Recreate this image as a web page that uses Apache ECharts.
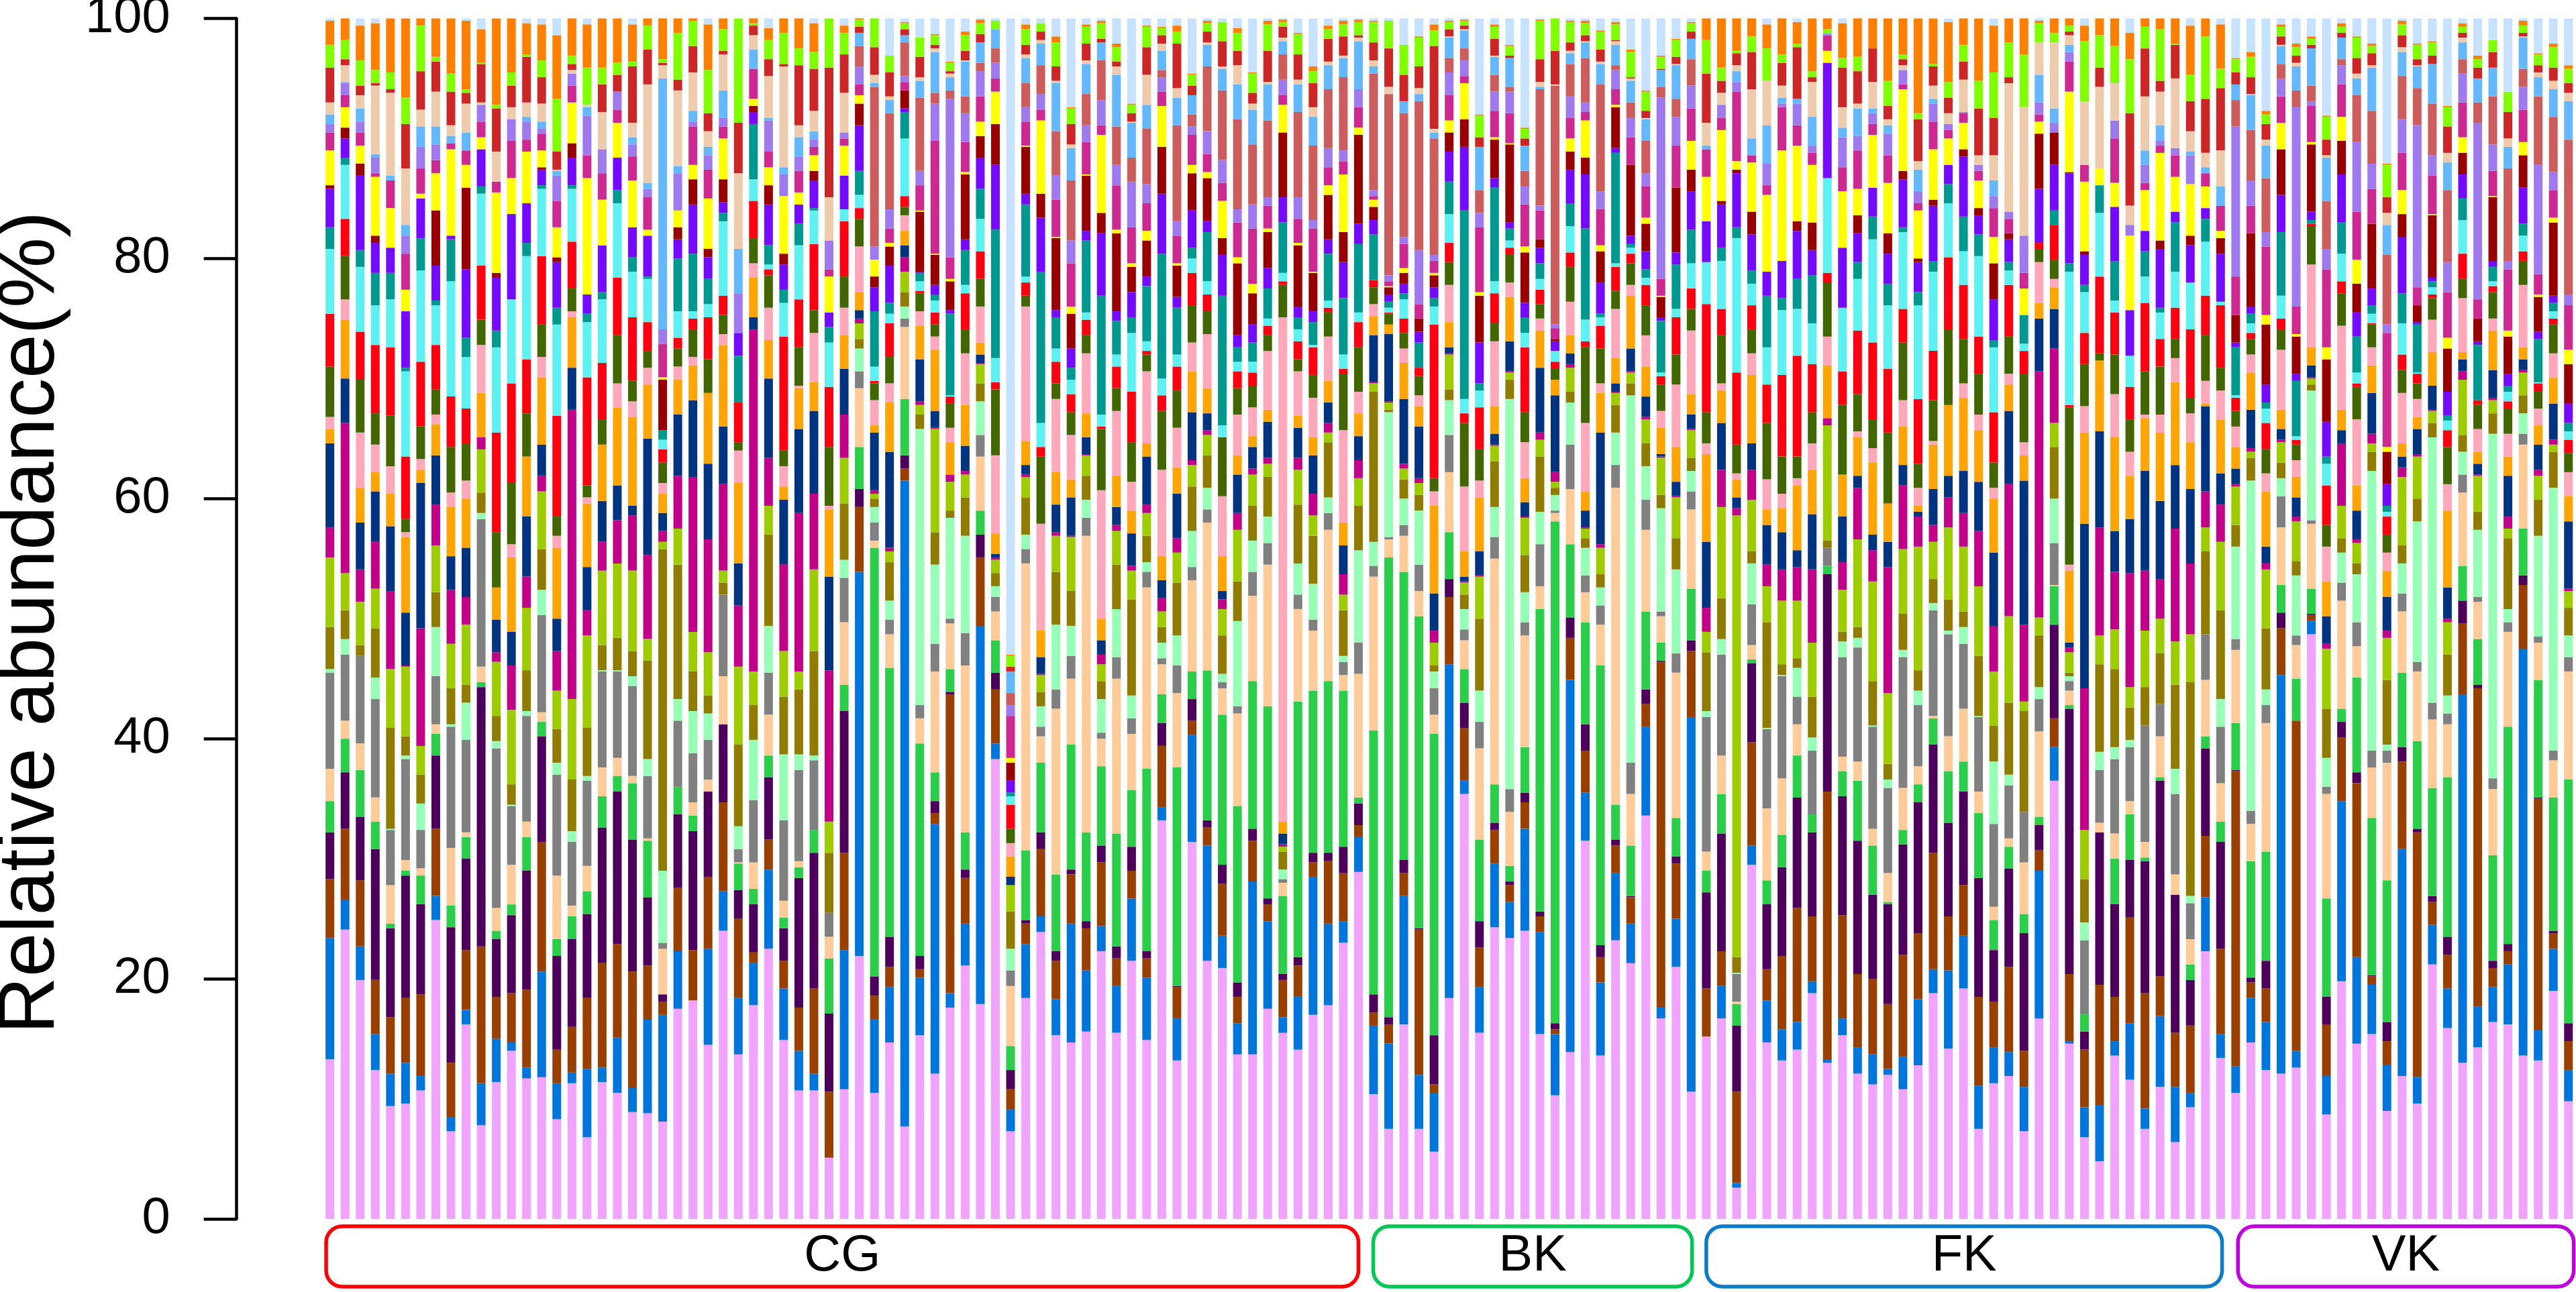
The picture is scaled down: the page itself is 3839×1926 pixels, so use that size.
<!DOCTYPE html>
<html><head><meta charset="utf-8">
<style>html,body{margin:0;padding:0;background:#fff}#c{width:3839px;height:1926px}</style>
<script src="https://cdn.jsdelivr.net/npm/echarts@6/dist/echarts.min.js"></script>
</head><body><div id="c"></div>
<script>
// Each row is one sample: the cumulative top (%) of taxa 1..29; taxon 30 tops out at 100.
const CG = [
[13.3,23.4,28.3,32.2,34.8,37.5,45.5,45.8,49.3,55.1,57.6,64.6,65.8,66.8,71,75.4,80.8,82.6,85.8,86.1,89,90.5,91.2,91.2,92,93,95.9,97.8,99.8],
[24.1,26.6,32.5,37.2,40,41.5,47,48.3,50.7,53.8,66.3,70,74.9,76.6,80.2,83.3,87.8,88.4,90,90.9,92.6,93.6,94.6,94.6,94.7,96.1,96.6,98.2,100],
[19.9,22.7,28.2,33.5,37.4,39.6,46.9,46.9,47.8,51.4,54.1,58,60.9,65.5,69.9,73.9,79.3,80.7,86.9,87.9,89.4,90.5,91.4,91.4,92.5,93.6,94.4,96.5,99.4],
[12.4,15.4,19.9,30.8,33.1,35.1,43.3,45.1,49.2,52.5,56.4,60.6,62.2,64.5,67.1,72.8,76.1,78.8,81.3,81.9,86.8,87.1,88.4,88.4,88.7,94.4,94.6,95.7,99.6],
[9.4,12.1,16.8,24.2,24.6,27.8,32.4,32.5,40.9,45.8,52.3,57.7,60.4,62.7,66.9,72.6,76.6,78.8,80.9,80.9,84.2,86.5,86.5,86.5,86.9,93.8,94.1,95.5,100],
[9.6,13,18.4,28.6,29,29.9,38.3,38.6,40.2,46,46.1,50.5,56.8,57.2,58.3,63.5,70.6,70.9,75.6,75.6,77.4,80.4,81.9,81.9,82.8,87.5,91.2,93.4,100],
[10.7,11.9,18.7,26.2,28.6,29.2,32.4,34.6,37,39.4,49.2,61.3,62.4,63.3,66,71.4,79,81.7,85,85,85.4,87.5,89.3,89.3,91,92.4,95.6,99.4,100],
[24.9,26.9,32.5,38.6,40.4,41.2,45.2,49.3,52.2,56.1,59.5,63.6,66.2,67,69.1,72.8,76.1,76.5,79.4,84,87.1,88.2,89.5,89.5,91,93.9,96.4,96.8,100],
[7.3,8.5,13,24.3,26.1,30.9,41,41.2,44.2,47.9,52.4,55.2,59.3,60.5,64.3,68.5,78.1,81.6,81.9,81.9,89.1,89.6,89.6,89.6,90.2,91.1,93.9,95.4,100],
[16.2,17.4,22.4,30,31.8,32.2,39.9,43,44.5,49.5,51.8,55.9,60,61.5,64.6,67.5,71.8,73.4,79.1,85.9,87.8,89,89,89,90.5,92.9,93.8,94.1,99.8],
[7.8,11.3,22.7,44.3,44.7,46,58.3,58.8,60.5,64.1,65.1,65.1,68.8,72.8,74.9,79.4,85.4,86,89.1,89.1,90.1,91.4,92.8,92.8,92.8,93,96.2,96.3,99.1],
[11.4,15,18.5,23.3,24,25.9,39.2,39.8,41.9,46.4,47.2,49.9,52.6,52.6,57.2,65.5,72.6,74,78.4,78.8,85.5,86.4,86.4,86.4,86.4,88.9,92.5,92.8,100],
[14,14.7,18.8,25.3,26.2,29.5,34.4,34.5,36.2,42.4,46.1,48.9,55.1,56.2,61.3,69.6,76.6,76.6,83.7,83.7,86.7,89.8,91.6,91.6,91.6,92.6,94.4,95.5,100],
[11.7,12.6,19.1,29,31.8,33.1,41.9,42.3,45.7,50.9,53.5,58.5,63.5,63.5,67.1,71.6,80.2,81.3,84.6,84.6,88.9,89.9,91.4,91.4,91.8,93,96.8,97,99.6],
[11.8,20.6,31.4,40.2,41.4,42.2,50.3,52.4,55.8,60.6,61.9,64.5,70.1,71.8,74.5,80.2,85.8,86.1,87.4,87.6,89,90.4,90.8,90.8,91.4,92.9,95.1,96.5,99.5],
[8.3,11.3,14.1,21.9,23.3,28.6,37,38,40.8,44,47.3,50,55.9,56.9,58.5,66.9,74.5,75.9,79.7,80.1,82.6,84.8,86.9,86.9,87.3,87.4,88.9,93.3,98.6],
[11.3,12.2,16,23.3,25.2,26.1,31.4,32.3,36.6,43.3,67.4,70.9,75.1,75.6,77.5,81.4,85.8,86.1,88.4,89.6,93,94.4,95.4,95.4,95.4,95.7,96.2,96.9,100],
[6.8,12.5,18.4,25.4,27.3,29.4,36.5,36.9,40.9,48.6,50.7,54.3,59.6,60.1,61.1,70.1,74.7,75.4,77,77,86.7,88.6,91.9,91.9,92.6,92.8,92.8,95.9,99.5],
[11.4,12.6,21.3,32.6,35.2,37.6,45.6,45.7,47.8,54,56.4,59.8,64.5,64.5,66.6,71.3,76.6,77.2,81.1,81.1,84.9,87.1,89.1,89.1,89.1,92.2,94.5,95.9,100],
[10.5,15.1,22.9,35.6,36.9,38.4,45.6,45.7,48.4,54.6,58.2,61.1,67.6,69.6,73.6,78.4,84.6,85.7,88.4,88.4,91.3,92.4,93.9,93.9,93.9,93.9,95.3,96.3,100],
[8.9,10.9,20.6,31.6,36.3,36.9,44.4,45.2,47.3,54,58.6,59.4,66.8,68.1,69.8,75.1,78.9,80.1,82.6,82.6,86.5,88.5,89.5,89.5,90.1,91.3,96,96.4,99.5],
[8.8,16.6,21.1,26.8,31.5,31.7,36.9,38.3,46.5,48.3,55.3,65,69.5,70.9,72.3,74.7,78.3,78.5,81.9,81.9,82.4,85.1,85.8,85.8,86.3,94.5,97.4,99.4,100],
[8.1,17,18.1,18.7,18.7,22.5,23,29,55.8,56.4,57.3,58.8,60.4,61.3,63,64.1,64.9,65.7,65.7,69.9,70.1,72.9,74.1,74.1,95,96.1,96.3,96.6,100],
[17.5,22.3,27.6,33.7,36,36,41.5,43.3,54.5,57.5,61.9,67,69.9,71,72.5,73.4,75.6,80,81.6,82.6,84,84,87.1,87.1,87.7,94,94.9,98.8,100],
[18.2,18.2,22.4,32.3,33.6,34.7,38.8,42.3,45.6,48.9,61.8,68.2,71.1,71.8,74.1,75,75.6,80.4,84.5,86.6,87.8,91,91.4,91.4,92.3,95.5,97.7,99.8,100],
[14.5,22.5,28.5,35.6,35.6,36.6,39.9,42.1,43.6,47.2,56.6,62.9,68.8,68.8,71.6,75.1,76.2,78.3,80.1,80.8,85,87.4,88.6,88.6,89.3,90.6,92.1,95.7,99.5],
[24,27.3,34.7,41.2,41.2,45.2,52,52,53,54,61.2,66,72.8,73.7,75.3,76.9,83.1,83.8,84.7,86.6,90,91,91.7,91.7,94,97,97.3,99.1,100],
[13.7,18.4,25,27.4,29.6,29.7,30.8,32.7,39.5,46,51.1,54.6,61.3,64,64.7,68,68,71.9,73.8,73.8,73.8,73.8,77.1,77.1,80.8,87.1,91.3,100,100],
[17.8,21.3,22.2,26.2,27.5,29.7,34.9,39.9,42.8,45.6,74.1,75.1,78.4,79.6,81.7,84.8,86.6,91.2,92.2,92.7,93.3,95.8,95.8,95.8,97.4,98.6,99.4,99.6,100],
[22.5,29.1,31.6,36.8,38.6,42,45.5,49.4,57,59.4,63.4,70,73.2,75.9,78.6,79.1,79.5,81.1,84.5,86.1,87.6,88.9,91.5,91.5,91.7,95.2,96.6,98.2,99.2],
[14.9,19.2,21.5,24.2,25.1,26.5,33.2,38.7,43.5,47.3,54.5,59.9,61,62.7,64,73.5,76.3,77.4,79.5,80.4,85.2,85.2,87,87,87.6,96,96.2,98.8,100],
[10.7,14,17.6,28.4,29.3,29.8,37.4,38.7,44.1,45.6,58.8,65.8,69.2,69.4,72.6,76.6,81.1,82.9,84.5,84.5,85.5,87.3,88.5,88.5,90.1,91.1,96.1,97.5,100],
[10.7,12.1,19.2,30.5,32.4,32.4,38.2,38.6,47.3,54.1,60.4,67.3,69.7,73.8,75.7,81.2,84,84.2,86.5,87.3,88.6,89.3,89.9,89.9,90.6,92.3,95.8,97.2,99.6],
[5.1,5.1,10.6,17.1,21.7,23.5,25.5,25.5,30.5,33.1,45.7,53.5,59.1,59.4,64.3,69.3,73,74.3,75.5,75.5,78.5,79.1,81.5,81.5,81.5,85.1,95.9,100,100],
[10.8,22.4,30.5,42.3,44.5,49.7,53.4,54.9,59.6,63.4,67,70.8,73.6,75.9,78.5,83.1,84.1,84.1,86.9,86.9,89.4,90,90.5,90.5,90.5,93.8,97,98.8,99.4],
[21.9,53.9,59.3,60.8,64.3,69.2,70.6,72.5,73.3,74.6,75,75.7,77.2,81,83.3,84.2,85.3,87.3,91.1,92.9,93.6,94.5,96,97.7,98.8,98.8,99.3,99.9,100],
[10.5,16.6,18.6,20.2,55.9,56.5,58,59.3,60,60.4,60.7,65.5,66.1,68.2,69.6,69.8,71,75.6,77.6,78.5,79.9,79.9,81,94.3,94.6,95.3,97.6,100,100],
[14.7,19.3,21,23.5,45.9,48.7,49.9,51.5,54.7,55.6,55.9,63.9,68,69.6,71.8,74.6,75.4,76.3,79.4,81,81.3,82.5,84.1,92.1,93.2,93.5,95.5,96.9,96.9],
[7.7,61.5,62.5,63.6,68.3,74.3,75,76,77.2,78.9,80.1,81.1,82.3,83.6,84.3,85.2,90,92.2,92.5,94,94,94.7,95.2,98,98.6,98.6,99.1,99.6,99.7],
[15.3,20.1,20.8,21.9,39.6,41.7,42.8,65.8,67,67.8,68.1,71.6,74.4,75.6,77.1,77.3,78.1,78.8,78.9,83.9,84,86.1,87.3,93.4,94.8,95.1,96.8,98.4,98.4],
[12.1,32.9,33.8,34.8,37.2,45.6,47.9,54.5,57.2,65.8,65.9,67.3,72.4,73.5,74.5,75.5,76.5,77,77.8,80.3,80.4,89.8,92.9,93.8,97.2,97.5,97.8,98.6,98.7],
[17.6,18.8,43.7,43.9,45.8,49.6,50,58.4,59,61.4,62,62,64.7,65.9,67.9,68.5,68.6,75.4,75.7,78.1,78.3,80.1,93.3,94,95.1,95.4,95.6,96.3,96.4],
[21.1,24.6,28.4,29.1,32.2,46.1,48.8,56.9,60.1,62,62.3,64.4,67.8,72.1,74.1,77.1,77.8,80.7,81.6,87,87.2,89.7,92.1,93.5,96.4,96.5,97.3,98.6,98.9],
[17.9,49.4,55.1,57,59,63.5,65.3,68.1,69.6,71.2,71.3,72,73,76,78.3,80.6,83.3,85.8,88.4,90.2,91.4,93.5,95.6,96.3,98,98,98.7,99.6,99.9],
[38.3,39.6,44.1,45.5,48.2,50.6,51.8,52.7,53.8,54.9,55.1,55.4,57.1,63.6,69.1,69.7,71.7,82.4,87.8,91.2,93.9,95,96.3,97.5,99.1,99.1,99.1,99.8,99.8],
[7.3,9.1,10.8,12.4,14.4,19.4,20.7,22.5,25.6,27.8,27.8,28.5,30.2,31.3,32.5,34.5,35.2,35.5,36.5,38,38.4,41.9,42.8,43.8,45.6,45.6,46,46.9,47],
[18.4,22.9,24.6,24.9,30.7,54.6,55.8,57,60.1,61.8,62,62.8,64.8,76,76.9,78,78.5,84.5,85.4,89.3,89.4,91.4,92.6,94.6,96.7,97,97.8,99.1,99.5],
[23.9,25.2,30.8,32.2,38,40.2,41,42.7,43.9,45.3,45.4,46.8,49,57.9,63.5,64.3,66.3,78.9,83.4,85.4,91.5,92.4,93.7,96.1,97.9,98.2,98.9,99.6,99.6],
[15.3,18.3,21.5,22.3,28.7,42.5,44.1,49.5,53.9,56.9,57.2,59.5,62.2,68.3,69.6,71.4,72.5,75.1,75.7,81.7,81.8,84.9,86.9,90.6,94.6,94.8,96,98,98.5],
[14.7,24.6,28.7,29.1,39.5,45,46.9,49.4,52.3,56.8,56.9,60.1,61.6,65.3,67.2,68.7,69.9,70.9,72.5,75.4,76,79.6,81.5,86.5,89.2,89.5,91.2,92.5,92.6],
[15.6,20.7,24.2,24.8,32.2,56.9,58.4,59.9,61.9,63.6,63.7,65.1,67.1,72.1,73.6,74.9,75.5,81.5,82.3,86.9,87,89.7,91.1,93.7,96.2,96.5,97.9,99.3,99.5],
[22.3,24.4,29.7,31.1,37.7,40,40.5,43.3,44.8,46.2,47,48.2,50,60.7,65.8,66,67,76.9,82.1,83.8,90.3,91.1,93.2,96.5,98,98,98.3,99.6,99.8],
[15.5,19.4,21.7,22.7,32.1,45,46.8,50.8,54.5,57.3,57.8,59.3,61.9,67.3,69.2,71,72,74.8,75.6,82.1,82.4,86.1,87.8,91,95.3,96,96.4,97.6,97.9],
[21.5,26.7,29,31,35.7,40.4,41.7,43.6,51.6,54,54.4,57.1,59,61.4,64.7,68.9,73.8,75.1,77.2,79.3,79.6,82.6,86.4,88.4,91.3,91.4,92.1,92.8,92.9],
[14.9,20.1,21.7,22.3,37.5,52.6,53.9,54.7,56.9,58.8,59.5,63.5,64.6,70.6,72,72.3,73.1,77.7,78.5,81.5,82.3,84.6,86.2,90.8,92.8,95.3,97.6,99.3,99.4],
[33.2,34.3,39.4,41.3,43.7,46.2,46.7,48,49.3,50.6,51.7,53.2,55.2,62.4,67.3,68.6,70,80.4,85.4,89.3,92.7,93.9,95.1,95.7,97.3,97.9,98.6,99.2,99.3],
[13.2,16.7,19.3,19.4,37.6,43.8,46.1,48.6,53,55.5,56.7,60.4,62.6,65.9,69,71,72,75.9,76.8,79.4,79.6,81.9,83.1,91.1,93.4,94.2,97.9,98.9,99.4],
[31.4,40.3,41.5,43.3,45.6,53.2,54.3,57.3,61,62.8,63.2,67.2,70.6,73,76.1,78.8,80,80.9,84,87.1,87.8,90.3,91,92,93.6,93.6,94.4,95.3,95.4],
[21.5,31.1,32.6,33.2,45.7,58,59.1,60.9,63.6,65.3,65.7,67.1,69.2,73.7,75.6,77,78.1,82.2,83.1,86.7,87.2,88.7,90.6,96,97.8,98,98.9,99.6,99.8],
[20.9,23.6,27.9,29.5,42,44.2,44.7,45.4,48.6,50.8,51.6,52.3,55.2,60.2,65.1,65.1,66.1,76.9,80.3,81.7,84.8,86.3,88.2,94,95.8,96,98.1,99.7,99.7],
[13.7,16.3,18.5,19.7,34.4,42.1,42.7,49.8,53.1,57.4,58.8,62,63.6,67,69.2,70.6,71.4,72.6,73.6,79.6,80.1,83,84.1,91.6,94.5,96.1,97.3,98.8,99.2],
[13.7,28.1,31.5,32.5,44.8,51.9,53.9,56.5,59.4,62,62.5,64.3,65.2,67.6,69.4,70.5,71.4,73,74.5,77.1,77.9,82.5,84.5,89.5,92.4,92.9,93.8,95.4,95.5],
[17.5,24.8,26.2,26.7,42.7,54.5,56.3,58.5,61.8,62.9,63.4,66.4,67.4,72.3,73.6,74.4,75,77.5,79.2,82.2,82.5,84.4,85.1,91.5,94.5,94.7,97.3,99.5,99.8],
[15.5,16.8,19.9,20.4,26.9,28,28.3,29.1,30.6,31,31.2,32.1,33.1,75.1,77.8,78.1,78.8,83,85.1,90.5,92.8,93.6,94.9,97,98.1,98.4,99.3,99.7,99.9],
[14.1,18.5,21.1,21.8,43.1,50.8,52,54.6,59.5,62.4,63.4,65.9,66.9,70.6,71.6,73.1,74.1,75.1,76,81.1,81.3,83.3,85.1,92.2,94.5,94.9,97,98.7,98.8],
[17,28.5,29.7,30.5,44,49,49.9,52.9,56.9,58.6,60.4,63.6,65.1,68.4,70.3,72.6,72.8,74.7,75.6,78.8,78.9,82.5,83.2,89.4,91.8,92.6,94.6,95.6,96],
[17.8,24.6,29.8,30.5,44.8,57.4,58.8,60.1,64.7,65.5,66.3,68,69.8,73.5,75.5,75.9,76.5,80.4,81.6,85.3,86.1,87.6,89.2,94.1,96.1,96.4,98.3,99.1,99.4],
[23,24.8,28.8,31,44,45.3,46.4,46.9,50.7,52,53.7,56.1,58,65.7,70.4,70.8,72,76.7,79.7,82.2,87,88.1,89,95.1,96.7,96.9,98.5,99.5,99.8],
[28.9,31.8,32.8,34.6,35.1,45.4,48,55.7,59.4,61.7,63.2,65.2,67.1,68.9,72.6,74.7,75.5,81.2,82.9,90.3,90.9,92.6,94.1,94.1,98.1,98.4,98.6,99.7,99.9]
];
const BK = [
[10.4,16.1,17.2,18.7,40.7,53.5,54.4,56.4,68.9,69.6,69.7,73.6,75.2,76.2,77.6,78.2,78.2,82,83.2,84.3,84.9,85.2,85.7,95.4,96,96.5,98,99.7,99.8],
[7.5,14.6,16.2,16.8,55.1,56.6,56.8,67.2,67.4,68,68.1,73.7,74.5,74.5,75.4,75.5,75.9,76.4,77,77.6,77.7,78.1,78.6,93.7,93.7,94.3,97.5,99.8,99.8],
[16.2,26.9,28.8,29.9,53.9,56.9,57.8,60,61.6,62.5,62.9,68.3,71.3,72.5,73.8,75,76.6,77.1,77.9,78.8,79.2,81.2,81.8,92.1,93.1,93.1,95.3,97.8,97.8],
[7.5,12,24.1,24.2,50.2,52.3,54.5,59,60.3,61.3,61.7,66,67.7,68.6,70.2,70.9,70.9,73,73.9,75,75,76.2,80.7,93.1,93.7,94.2,96,98.4,98.5],
[5.6,10.5,11.2,15.3,40.4,42,44.2,45.6,46.1,48,49,52.1,59.4,60.6,61.7,74.5,76,76.7,77.6,78.6,78.8,79.8,80.3,90,90.5,90.8,97.7,99,99.5],
[18.4,46.2,51.8,53.3,57.2,62.2,65.3,68.2,69.1,72,72.1,72.6,74.7,77.8,79.7,81.3,83.7,86.4,88.9,90.5,91.5,93.6,95.5,96.7,98.4,98.5,99.1,99.7,99.8],
[35.4,36.5,40.9,43,45.8,48.2,49.1,50.8,52,53,53.1,53.5,55.6,61,66.3,67.1,68.3,84,89.3,91.6,94.6,95.2,96.5,97.5,99,99.1,99.4,99.8,99.9],
[15.5,19.3,22.6,24.8,31.6,39.2,41.4,44,50,53.5,53.6,55.6,60.1,61.5,64.1,67.6,69,69.6,73,76.9,77.2,82.6,83.8,85.7,89.3,89.3,90.1,91.9,92],
[24.3,29.6,32.4,33,36.2,55,56.8,59.3,63.1,64.4,64.5,65.4,67.7,73.1,74.6,77.1,78.1,85.9,86.7,89.9,90.1,92.3,93.9,95.3,96.8,96.9,98.3,99.3,99.5],
[23.4,26.4,27.8,28.1,29.4,33.9,35.8,68.3,69.9,70.5,70.6,73.1,76.8,78,80.3,80.9,81.5,82.5,83,89.5,89.6,92.1,93.9,94.3,96.7,96.7,96.9,97.7,97.8],
[24,32.5,34.7,35.5,39.3,48.6,49.7,52.2,55.3,58.4,58.5,59.7,61.7,64.7,67.2,72.6,73.8,75.1,76.3,80.5,81,84.5,86,87.3,89.4,89.4,90,90.8,90.9],
[15.4,23.9,25.2,25.6,50.8,52.7,56.2,58.9,63.5,64.9,65.5,70.9,74,75,76.2,77.4,78.3,79.6,80.9,81.6,81.6,84,84.4,94.1,94.3,94.7,96.6,99.8,99.9],
[10.3,15.4,15.8,16.3,58.1,58.8,59,60.3,60.9,61.4,62.2,68.6,69.9,69.9,70.8,71.4,72.3,72.3,73.1,73.3,73.3,74.2,74.5,94.4,94.4,94.5,97.3,100,100],
[13.9,44.9,48.4,50.1,56.2,60.8,64.5,68,68.9,70.9,71.2,72.1,73.6,76.4,79.3,80.5,82.7,84.6,87.4,88.9,90,91.7,93.5,96.2,97.1,97.3,98,99.7,99.8],
[31.5,35.5,39,41.2,49.7,52.2,53.6,55.9,56.7,57.5,57.6,59,60.6,66.3,72.6,73.1,74.9,82.5,87,88.4,91.5,92.2,93,96.7,98,98.1,98.6,99.6,99.8],
[13.6,19.7,21.8,22.8,46.1,49.5,51.1,52.6,53.7,55.9,56.2,65.5,68.8,69.6,72.5,74.4,75.1,75.4,78,80.6,81.1,84.1,85.6,94.5,96.2,96.4,97.4,98.9,99],
[23.2,28.8,31.1,31.6,34.5,60.9,62.8,65.5,67.8,68.8,68.9,69.6,71.7,75.8,77.3,79.3,79.6,88.8,89.2,92.6,92.8,94.1,95.7,96.1,97.8,98.1,98.2,99.5,99.7],
[21.3,24.6,26.8,26.9,31.1,35.4,38,68.6,69.6,70.5,70.6,72.5,76.9,77.8,79.6,80.4,80.9,81.2,81.9,87.8,87.8,90.1,91.7,93,94.8,95,95.1,97.2,97.4],
[33.6,41,42.9,44.1,50.6,57.4,59.9,62.7,64.6,66.6,66.8,68.5,71,73.6,76.1,77.8,78.4,79.1,80.6,82.9,83.4,86,87.1,89.8,91.6,91.7,92.3,93.9,94],
[16.7,17.6,46.4,46.5,48,50.2,50.6,59.2,60.3,63.4,63.5,63.7,65.9,67.3,69.5,70.2,70.5,74.8,75.1,76.8,76.9,78.3,93.4,94.3,95.7,95.7,95.8,96.8,96.9],
[21,25,29.6,30.2,33.4,45.5,47.1,54.1,56.7,60.1,60.2,61.4,64.3,69.5,72,75.1,75.8,79.5,80.5,85.9,85.9,89.4,91.8,93.3,96.1,96.2,96.8,98.2,98.3],
[10.6,41.8,47.3,48.2,52.5,59.1,60.6,62.3,63.4,65.7,65.8,67,68.7,74,75.8,77.5,79.6,82.4,85.6,87.4,89.8,92.5,94.4,96.6,98.3,98.3,98.9,99.6,99.7]
];
const FK = [
[15.2,15.2,19.2,27.2,29,30.6,41.8,42.3,47.2,48.9,50.9,56.4,63.7,64.6,67.2,76.2,79.7,79.7,83.1,83.1,86.8,89.1,89.1,89.1,89.4,91.3,95.4,98.2,100],
[16.7,19.4,22.3,32.1,35.4,38.6,47,48.3,51.7,59.3,62.4,66.3,69,69.6,73.6,75.8,79.8,80.9,84.5,84.8,90.7,91.7,92.8,92.8,92.8,93.8,94.8,95.9,100],
[2.6,3,10.6,16.1,17.9,18.1,20.4,20.5,21.8,58.6,59.2,60.1,61.6,62.1,64.5,70.5,81.7,82.6,87.1,87.4,88.1,93.9,94.7,94.7,95.6,96.1,97.1,97.3,100],
[29.5,31.1,39.7,46.3,46.6,47.8,51.2,54.6,55.6,59.9,62.4,64.6,70.3,72.1,74.1,76.1,77.9,79,82,83.9,88,88.6,88.6,88.6,90,94.1,97.2,98.5,100],
[14.7,18.2,20.8,26.2,28.2,34.2,40.8,40.9,49.7,52.7,54.5,57.8,59.1,61.6,66.3,69.5,72.6,76.9,78.9,78.9,85.3,86.1,87.9,87.9,91.1,94.8,94.8,97.5,99.5],
[13.2,15.8,21.9,29.3,32,36.7,45.2,45.3,46.2,51.5,54.1,57.2,59.2,60.4,63.5,70.3,75.7,76.7,79.8,79.8,89,92.6,92.9,92.9,93.4,94.4,96.3,97,100],
[14.1,16.4,25.9,35.1,38.6,41.2,43.5,45.9,46.7,51.5,54.3,55.7,61.1,61.7,63.5,71.9,75.8,78.3,82.3,83.1,89.4,91.1,92.9,92.9,93.3,93.3,97.6,97.9,99.7],
[18.8,19.8,25.2,32.2,33.7,33.7,39,40.1,43.5,48,54.1,58.7,62.4,64.6,67.2,71.2,74.6,78.6,80.7,83,87.8,88.8,89.4,89.4,91.8,94.7,95.1,95.6,100],
[13,13.3,35.6,53.7,54.4,54.4,55.9,55.9,56.5,66.1,66.7,66.7,71.1,73.5,78,78.8,86.7,86.7,96.3,96.3,97.3,98.6,98.7,98.7,98.8,98.8,98.8,99.1,100],
[15.3,16.7,25.3,35.2,37.3,38.5,46.8,48.1,48.9,52.4,54.7,58.5,62,62,67.8,70.6,75.9,75.9,80.9,80.9,85.6,87.6,90.1,90.1,90.9,92.6,95.9,96.7,99.6],
[12.1,14.3,20.4,31.5,36.5,38.1,47.6,48.4,49.3,56.6,60.9,61.9,65.1,65.6,68.7,74,78.3,79.7,82.1,83.6,85.8,89,90.2,90.2,92.5,92.9,95.6,96.8,100],
[11.2,13.7,20,27,31.1,32.5,41,41.1,44.8,53.1,55.7,57,63,64.2,66.6,73,81.6,83.5,85.9,85.9,90.3,91.2,92.1,92.1,92.5,94.7,97.5,97.5,100],
[12,12.5,17.9,26.2,26.4,28.8,35.9,36.6,37.9,43.8,54.3,56.4,59.6,59.6,65.5,70.8,76.1,77.9,80.4,82.1,86.3,88.6,90.4,90.4,91.1,91.6,92.7,94.8,100],
[10.8,13.5,22,31.2,32.4,35.9,46.8,47.4,50.4,55.8,61.1,62.8,66,68.2,73,75.8,82.2,82.6,86.6,87.3,94.1,94.5,95.7,95.7,95.7,96.1,96.6,97,100],
[12.8,18.3,23.8,34.7,36.2,37.7,42.8,44,45.7,56,58.5,58.9,59.4,60.9,62.9,68.3,76.1,77.2,79.7,80,84,84.6,85.6,85.6,87.4,88.1,91.6,92.1,100],
[18.8,20.8,30.5,39.5,41.7,41.9,50.7,51.3,53.3,56.4,57.8,60.8,64.5,64.8,68.2,72.3,78.9,79.8,84.4,84.9,89.1,91.4,92.9,92.9,93.3,94.4,96,96.2,100],
[14.2,20.7,25.2,33,37.3,40.2,48.7,49,51.6,57.6,60.1,61.9,67.8,67.8,74.1,80.1,84.6,86.2,87.8,87.8,90,90.7,91.2,91.2,91.2,92.1,93.4,94.7,99.7],
[19.2,23.6,27.8,35.6,38.1,42.5,47.9,49.3,50.6,56,58.8,62.3,68.4,69.6,73.3,77.8,80.6,83.5,88.5,89.1,91.3,92.1,92.2,92.2,92.2,94.9,96.4,97.8,100],
[7.5,11.1,18.5,28.4,33.8,35.6,41.8,41.9,46.9,52.7,57.3,61.4,65.7,67,70.4,73.5,80.2,82,83.6,84.2,86.5,87.3,87.8,87.8,87.8,88.6,92.5,94.8,100],
[11.3,14.3,18.1,22.4,24.9,26,32.9,38.1,41.1,45.6,49.4,55.5,60,60.9,63,67.2,72.6,73.2,76.6,79.6,81.8,84.2,85.2,85.2,86.5,88.6,91.7,95.5,99.4],
[11.9,13.9,21,29.2,31,31.7,36.1,37,43,50.2,61.2,67.3,69.5,70.4,73.5,77.8,79,79.7,81.6,82.1,82.1,83.3,83.9,83.9,83.9,94.6,95.1,98,100],
[7.3,11,14,23.8,25.4,29.7,33.9,33.9,42.3,43.1,49.5,61.5,63.6,64.7,70.4,72.3,72.9,75.3,75.3,75.3,77.5,78.8,81.9,81.9,81.9,92.6,92.6,97,100],
[16.7,29,30.7,32.8,33.5,40.6,43.3,44.3,48.6,50.1,70.6,75,76.3,79.7,80.8,81.3,81.3,81.3,85.8,90.4,91.4,92,93,93,95.3,98,98,99.6,99.8],
[36.5,39.3,41.7,49.5,52.7,52.8,56.3,60,64.3,66.3,72.5,75.8,77.6,78.3,79.9,82.8,82.8,84,87.8,90.5,90.5,90.5,91.3,91.3,92.5,98,98,98.8,100],
[14.6,14.8,20.4,42.5,42.8,44,44.8,45.2,45.5,47.2,47.6,48,54,54.5,67.6,67.8,78.9,79.6,87.1,87.2,93.9,96.4,97.2,97.2,97.8,98.6,98.9,99.4,100],
[6.8,9.3,14.1,15.6,17.1,17.1,23.2,24.7,28.3,32.4,44.2,57.9,65.5,67.7,71.2,73.8,77.2,77.8,80.3,80.6,86.4,87.8,87.8,87.8,87.8,93.1,93.1,98.1,99.4],
[4.8,9.5,19.5,32.2,32.2,33,37.4,38.9,46.2,48.6,57.6,65.6,71.5,71.5,72.1,78.5,83.8,86.1,86.1,86.1,87.5,87.5,87.5,87.5,87.5,94.3,95.9,98.6,100],
[13.6,14.8,18.5,26.2,30,32.1,38.3,39.3,45.8,49.1,53.9,57.3,65.1,68.7,72,75.5,76.5,79.8,84.3,84.3,86.3,90,91.5,91.5,91.5,94.6,94.6,97.7,100],
[11.6,16.3,25.1,29.9,33.7,34.8,39.3,39.9,42.6,44.3,53.8,58.3,61.9,63.9,66.6,69.3,71.9,71.9,75.7,75.7,81.9,81.9,82.8,82.8,82.8,84.4,92.1,96.6,98.8],
[7.5,9.2,18.8,29.8,30.1,31.4,41.1,41.1,44.3,49,54,62.3,66.7,67,70.6,76.3,78.5,80.6,82.3,82.3,85.7,86.3,87.8,87.8,89,93.5,97.5,99.3,100],
[11,16.9,20.2,36.5,36.8,40.2,42.9,42.9,47.1,50,53.3,59.8,65.5,67,71,73.3,75.5,75.9,80.8,81.5,88.8,89.4,89.8,89.8,91.1,93.9,94.8,99.1,100],
[6.4,11,15.5,27,27,28.7,35.4,37.5,44.5,48.1,57.5,62.8,69.7,71.7,73.3,75.9,78.9,83,83.9,83.9,86.8,88.6,89.2,89.2,89.2,95,97.8,97.9,100],
[9.3,10.5,16.1,19.9,21.2,23.3,26.3,26.9,44.7,48.7,54.6,60.8,64.7,67.1,68.4,74.1,78,78,81.1,81.9,86.2,86.2,88.6,88.6,88.9,90.6,93.1,95.3,99.4],
[22.3,26.8,31.9,39.2,40.2,44.9,48.7,48.7,55.6,57.6,60.6,67.7,67.9,69.8,73.6,76.9,81.4,83.3,84.2,84.2,86,87.1,87.1,87.1,87.6,88.8,93.3,98.5,100],
[13.4,15.4,22.5,31.4,33.1,36.3,41,43.3,50.7,56.4,59.5,62.1,66.6,69,70.9,76.1,76.4,76.4,80.4,81.7,82.3,84.4,84.4,84.4,86,89,94.2,95.8,99.5]
];
const VK = [
[10.5,12.7,37.3,37.4,41.3,47.4,48.3,56,57.8,61,61.2,62.5,64.3,66,67.3,68.4,68.6,72.6,73,75.3,75.3,78.5,91,93.2,94.5,94.5,95.5,96.6,96.7],
[14.7,18.4,19.7,20.1,29.8,32.9,34,61.5,63.4,63.9,64.2,67.4,70.5,72,73.3,73.8,74.6,75.4,76,82.1,82.1,84.4,86.5,90.7,93.6,93.7,95.1,96.8,97.2],
[12.4,16.4,19.2,21.5,30.6,41.3,42.8,44.1,49.2,54.1,54.6,56,60.6,62.1,64.1,66.3,67.5,68,69.5,74.5,75.3,81,82.2,86.7,89.4,89.9,91.2,92,92.3],
[12.1,45.3,49.2,50.5,52.8,57.6,60.2,61.7,63,64.7,64.9,65.8,67.4,72.4,74.1,75,76.9,82.2,85.3,89.1,91.3,93.5,95,96.2,97.7,97.8,98.5,99.3,99.5],
[12.6,14,41.5,41.5,45,47.8,48.6,53.6,54.8,58.1,58.5,60.1,61.8,63.2,64.5,64.9,65.2,69.8,70.4,73.5,73.7,76,92.6,94,96,96.3,96.9,97.6,97.9],
[48.7,49.8,50.3,50.4,52.5,57.9,58.2,69,69.5,70,70.1,71.1,72.6,79.5,82.7,82.9,82.9,83.2,83.9,89.5,89.7,92.7,93.1,94.4,97.5,97.5,97.8,98.3,98.5],
[8.7,11.9,16.2,18.5,26.7,35.4,36,38.4,42.5,47.5,47.9,50.2,53.1,56,57.8,61.1,62.9,63.5,66.4,71.6,72.6,79.1,80.8,84.8,88.4,88.6,89.9,91.8,91.9],
[19.8,34.8,40.1,41.4,42.5,51.5,53,55.5,56.7,59.4,64.6,65.7,67.4,74.4,77.1,78.1,80.4,83,87,89.8,91.8,94.5,96.1,96.6,98.4,98.4,98.8,99.3,99.6],
[14.6,21.8,36.3,37.2,45.1,47.7,49.7,53.7,54.6,56.3,56.6,59,61.1,66.6,69.3,69.6,70.5,73.5,75.5,77.9,79.9,83.9,89.7,93.6,95,95.4,96.7,98.4,98.5],
[15.4,19.5,20.2,20.3,33.4,37.6,39,62.3,63.9,64.6,65.4,68.8,71.1,72.6,74.5,74.6,75.4,76.1,77.5,82.9,82.9,85.8,87.9,92.3,95.9,96.1,97.1,97.7,97.9],
[9,12.8,14.8,16.4,28.2,38,39,39.5,44.9,48.4,49,51.8,54,55.5,57,58.5,58.9,59.4,61.2,63.9,64.3,73.8,74.5,80.3,82.8,83.8,85.1,87.8,87.9],
[11.9,30.8,38.1,39.3,45.5,50.6,52.1,54.6,56.1,61.8,62.6,63.5,64.6,68.8,70.7,72,74.6,77.1,81.8,83.7,85.7,88.8,91.6,95.2,97.2,97.6,98.6,99.5,99.8],
[9.6,11.8,32.2,32.5,39.8,45.6,46.4,58.1,60,63.5,63.7,65.8,66.8,68.3,69.6,70.4,70.5,74.5,74.7,76.1,76.1,77.6,91.1,94.2,96,96.1,96.6,97.8,97.9],
[21.2,24.5,26.4,26.9,35.9,41.6,43,65.1,66.3,67.3,67.4,69.4,72.2,74.9,76.7,77,77.6,78.1,78.4,83.6,83.7,86.9,88.6,92.9,96.2,96.2,96.9,98,98.1],
[15.9,19.2,22,23.5,36.8,41.2,42.1,43.6,47,49.7,50,52.6,59,61.2,64.3,65.7,66.5,66.9,68.9,72.5,73.4,77.2,79.7,85.7,88,88.8,91,92.6,92.7],
[13,43.7,49.6,51.5,54.4,60.5,62,63.9,65.3,69.9,70.6,71.6,72.2,76.7,78.3,80.4,83.2,85,87,88.8,90.1,93,95.4,96.6,98,98.4,98.8,99.3,99.6],
[14.3,17.7,44.2,44.5,48.3,51.4,51.8,57.4,58.9,61.9,62,62.9,63.9,65.8,67.8,68.2,68.2,72.8,73.1,75,75,76.6,91.3,93,95,95,95.9,96.6,96.9],
[16.4,19.3,20.9,21.5,30.3,35.8,36.7,65.4,67.1,68.2,68.4,70.7,74,75,77.2,77.7,78.1,79.3,79.8,85.1,85.2,87.3,89.5,93.5,95.9,95.9,97.2,98.2,98.2],
[16.2,21.2,22.3,22.9,41,48.9,49.7,50.8,56.7,57.5,58.5,61.9,63.5,65.4,67.5,68.1,68.9,69.4,70.4,73.5,74,79.1,79.8,87.5,89.3,90,92.2,93.9,93.9],
[13.6,47.5,52.8,53.6,57.5,64.5,65.4,67.1,68.6,70.5,70.7,71.6,72.6,77.8,79.8,80.6,81.9,82.9,85.9,88.6,89.7,92.4,94.3,95.8,98.4,98.5,98.8,99.4,99.8],
[13.2,15.7,35,35.1,44.9,48,48.5,56.9,59.9,61.9,62.4,64.5,66.1,67.5,68.9,69.6,69.7,73.3,73.9,76.8,77,78.7,87.8,93.5,95.1,95.5,96.1,97,97.1],
[19,22.5,23.8,24,35.1,38.2,39,60.9,63.9,64.5,64.9,67.9,70.1,72.1,74.5,75,75.6,76.3,76.9,83,83.4,85.7,87.2,91.8,94.1,94.8,95.9,97.6,97.9],
[9.8,12.4,14.8,16.3,36.6,45.6,46.8,48.6,50.9,52.3,52.5,58.1,60.2,62.2,63.8,64.9,65.6,66.3,67.9,71.2,72.4,76.1,77,89.9,93.1,93.8,94.6,95.8,96.1]
];
const groupNames = ["CG","BK","FK","VK"];
const groupColors = ["#FF0000","#00C853","#0A7CC8","#C000E0"];
const groupFrom = [-0.25,68.98,91.0,126.15];
const groupTo = [68.0,90.06,125.1,148.35];
const yTicks = [0,20,40,60,80,100];
const taxonColors = ["#F0A3FF","#0075DC","#993F00","#4C005C","#2BCE48","#FFCC99","#808080","#94FFB5","#8F7C00","#9DCC00","#C20088","#003380","#FFA405","#FFA8BB","#426600","#FF0010","#5EF1F2","#00998F","#740AFF","#990000","#FFFF00","#CD2990","#9F79EE","#CD5C5C","#63B8FF","#EECBAD","#CD2626","#7FFF00","#FF7F00","#C6E2FF"];

const rows = [...CG,...BK,...FK,...VK];
const samples = rows.map((_,i)=>"S"+(i+1));
// cumulative tops -> segment heights
const heights = rows.map(r=>{
  let prev=0; const out=[];
  [...r,100].forEach(t=>{const top=Math.min(100,Math.max(prev,t)); out.push(+(top-prev).toFixed(2)); prev=top;});
  return out;
});
const series = taxonColors.map((color,k)=>({
  type:"bar",stack:"a",name:"T"+(k+1),barWidth:13,silent:true,animation:false,
  itemStyle:{color},data:heights.map(h=>h[k])
}));
series.push({
  type:"custom",silent:true,animation:false,clip:false,z:5,
  encode:{x:0,y:1},
  data:groupNames.map((n,i)=>[0,0,i]),
  renderItem(params,api){
    const i=api.value(2);
    const o=api.coord([0,0]);
    const band=api.size([1,0])[0];
    const x0=o[0]+groupFrom[i]*band, x1=o[0]+groupTo[i]*band;
    return {type:"group",children:[
      {type:"rect",shape:{x:x0,y:o[1]+11,width:x1-x0,height:90,r:24},style:{fill:"#fff",stroke:groupColors[i],lineWidth:5.5}},
      {type:"text",style:{text:groupNames[i],x:(x0+x1)/2,y:o[1]+56,align:"center",verticalAlign:"middle",fill:"#000",font:'76px "Liberation Sans"'}}
    ]};
  }
});
const chart=echarts.init(document.getElementById("c"),null,{renderer:"canvas",width:3839,height:1926,devicePixelRatio:1});
chart.setOption({
  animation:false,backgroundColor:"#fff",
  grid:{left:480.4,right:0,top:27.4,height:1789.6,containLabel:false,outerBoundsMode:"none"},
  xAxis:{type:"category",data:samples,axisLine:{show:false},axisTick:{show:false},axisLabel:{show:false},splitLine:{show:false}},
  yAxis:{type:"value",min:yTicks[0],max:yTicks[5],interval:20,offset:127.7,
    name:"Relative abundance(%)",nameLocation:"middle",nameRotate:90,nameGap:246,
    nameTextStyle:{fontFamily:"Liberation Sans",fontSize:118,color:"#000",padding:[0,12,0,0]},
    axisLine:{show:true,lineStyle:{color:"#000",width:4.5}},
    axisTick:{show:true,length:49,lineStyle:{color:"#000",width:4.5}},
    axisLabel:{fontFamily:"Liberation Sans",fontSize:76,color:"#000",margin:99},
    splitLine:{show:false}},
  series
});
</script></body></html>
